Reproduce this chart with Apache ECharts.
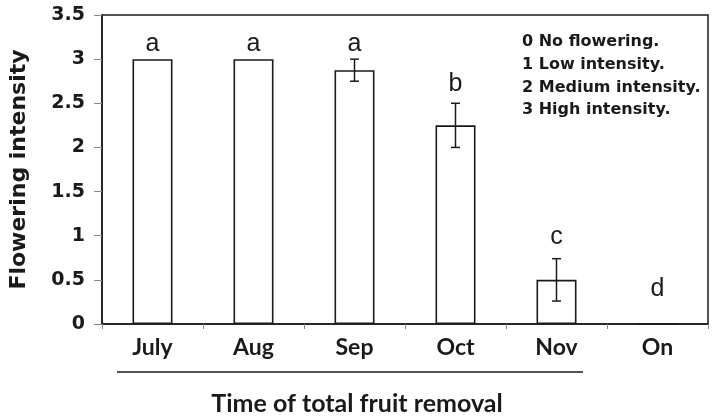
<!DOCTYPE html>
<html>
<head>
<meta charset="utf-8">
<script src="https://cdn.jsdelivr.net/npm/echarts@6/dist/echarts.min.js"></script>
<style>html,body{margin:0;padding:0;background:#fff}#c{width:715px;height:420px}</style>
</head>
<body>
<div id="c"></div>
<script>
const categories = ['July', 'Aug', 'Sep', 'Oct', 'Nov', 'On'];
const means = [3, 3, 2.875, 2.25, 0.5, 0];
const errors = [0, 0, 0.125, 0.25, 0.24, 0];
const letters = ['a', 'a', 'a', 'b', 'c', 'd'];
const letterAt = [3.17, 3.17, 3.17, 2.72, 0.98, 0.40];
const yTicks = [0, 0.5, 1, 1.5, 2, 2.5, 3, 3.5];
const legendLines = ['0 No flowering.', '1 Low intensity.', '2 Medium intensity.', '3 High intensity.'];

const chart = echarts.init(document.getElementById('c'), null, {renderer: 'canvas'});
const ink = '#1a1a1a';

chart.setOption({
  animation: false,
  backgroundColor: '#ffffff',
  grid: {left: 100, right: 7, top: 15, bottom: 96, show: true, borderColor: ink, borderWidth: 1.5, backgroundColor: 'transparent'},
  xAxis: {
    type: 'category',
    data: categories,
    axisLine: {lineStyle: {color: ink, width: 1.5}},
    axisTick: {show: true, length: 5, lineStyle: {color: '#888'}},
    axisLabel: {fontFamily: 'Lato', fontWeight: 'bold', fontSize: 23, color: ink, margin: 12}
  },
  yAxis: {
    type: 'value',
    min: 0, max: 3.5, interval: 0.5,
    name: 'Flowering intensity',
    nameLocation: 'middle',
    nameGap: 72,
    nameTextStyle: {fontFamily: 'DejaVu Sans', fontWeight: 'bold', fontSize: 22, color: ink},
    splitLine: {show: false},
    axisLine: {show: true, lineStyle: {color: ink, width: 1.5}},
    axisTick: {show: true, length: 8, lineStyle: {color: '#888'}},
    axisLabel: {fontFamily: 'DejaVu Sans', fontWeight: 'bold', fontSize: 19, color: ink, margin: 17,
      formatter: v => yTicks.includes(v) ? String(v) : ''}
  },
  graphic: [
    {type: 'text', left: 522, top: 31, style: {text: legendLines.join('\n'), fontFamily: 'DejaVu Sans', fontWeight: 'bold', fontSize: 16, lineHeight: 22.6, fill: ink}},
    {type: 'line', shape: {x1: 117, y1: 372, x2: 583, y2: 372}, style: {stroke: ink, lineWidth: 1.5}},
    {type: 'text', x: 357, y: 404, style: {text: 'Time of total fruit removal', fontFamily: 'Lato', fontWeight: 'bold', fontSize: 25, fill: ink, align: 'center', verticalAlign: 'middle'}}
  ],
  series: [
    {
      type: 'bar',
      data: means,
      barWidth: 40,
      itemStyle: {color: '#ffffff', borderColor: ink, borderWidth: 1.6},
      z: 2
    },
    {
      type: 'custom',
      z: 3,
      data: means.map((m, i) => [i, m, errors[i]]),
      renderItem: function (params, api) {
        const i = api.value(0), m = api.value(1), e = api.value(2);
        const children = [];
        if (e > 0) {
          const top = api.coord([i, m + e]);
          const bot = api.coord([i, m - e]);
          const hw = 4.5;
          const st = {stroke: ink, lineWidth: 1.5};
          children.push({type: 'line', shape: {x1: top[0], y1: top[1], x2: bot[0], y2: bot[1]}, style: st});
          children.push({type: 'line', shape: {x1: top[0] - hw, y1: top[1], x2: top[0] + hw, y2: top[1]}, style: st});
          children.push({type: 'line', shape: {x1: bot[0] - hw, y1: bot[1], x2: bot[0] + hw, y2: bot[1]}, style: st});
        }
        const lp = api.coord([i, letterAt[params.dataIndex]]);
        children.push({type: 'text', x: lp[0], y: lp[1], style: {text: letters[params.dataIndex], fontFamily: 'Liberation Sans', fontSize: 25, fill: ink, align: 'center', verticalAlign: 'middle'}});
        return {type: 'group', children: children};
      }
    }
  ]
});
</script>
</body>
</html>
